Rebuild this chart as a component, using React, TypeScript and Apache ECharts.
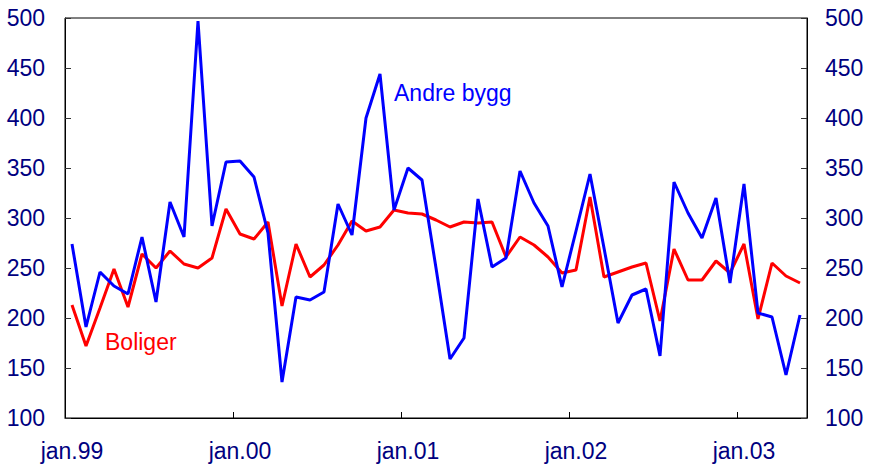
import React, { useEffect, useRef } from "react";
import * as echarts from "echarts";

const monthNames = ["jan", "feb", "mar", "apr", "mai", "jun", "jul", "aug", "sep", "okt", "nov", "des"];
const yearNames = ["99", "00", "01", "02", "03"];
const monthCount = 53;

const yTicks = { min: 100, max: 500, step: 50 };

const andreBygg = [
  274, 191, 246, 232, 224, 281, 216, 316, 281, 497, 292, 356,
  357, 341, 285, 136, 221, 218, 226, 314, 283, 400, 444, 308,
  350, 338, 250, 159, 180, 319, 251, 260, 347, 315, 292, 231,
  287, 344, 270, 195, 223, 229, 162, 336, 305, 280, 320, 235,
  334, 205, 201, 143, 203,
];

const boliger = [
  213, 172, 210, 249, 211, 264, 250, 267, 254, 250, 260, 309,
  284, 279, 296, 212, 274, 241, 253, 273, 297, 287, 291, 308,
  305, 304, 298, 291, 296, 295, 296, 261, 281, 273, 261, 245,
  248, 321, 241, 246, 251, 255, 197, 269, 238, 238, 257, 245,
  274, 199, 255, 242, 235,
];

const FONT = "'Liberation Sans', Arial, Helvetica, sans-serif";
const NAVY = "#000080";

export default function App() {
  const ref = useRef<HTMLDivElement>(null);

  useEffect(() => {
    if (!ref.current) return;
    const chart = echarts.init(ref.current, undefined, { renderer: "svg" });

    const categories: string[] = [];
    yearNames.forEach((y) => monthNames.forEach((m) => categories.push(`${m}.${y}`)));
    const cats = categories.slice(0, monthCount);

    const yAxisBase = (position: "left" | "right", margin: number) => ({
      type: "value" as const,
      position,
      min: yTicks.min,
      max: yTicks.max,
      interval: yTicks.step,
      axisLine: { show: true, lineStyle: { color: "#000", width: 1 } },
      axisTick: { show: true, inside: true, length: 6, lineStyle: { color: "#333" } },
      axisLabel: { color: NAVY, fontSize: 23, fontFamily: FONT, margin },
      splitLine: { show: false },
    });

    chart.setOption({
      animation: false,
      grid: {
        left: 65,
        right: 62,
        top: 18,
        bottom: 48,
        show: true,
        borderColor: "#000",
        borderWidth: 1,
        backgroundColor: "transparent",
      },
      xAxis: {
        type: "category",
        data: cats,
        boundaryGap: true,
        axisLine: { show: true, lineStyle: { color: "#000", width: 1 } },
        axisTick: {
          show: true,
          inside: true,
          length: 6,
          alignWithLabel: false,
          interval: (i: number) => i % 12 === 0,
          lineStyle: { color: "#000" },
        },
        axisLabel: {
          interval: (i: number) => i % 12 === 0,
          color: NAVY,
          fontSize: 23,
          fontFamily: FONT,
          margin: 21,
        },
        splitLine: { show: false },
      },
      yAxis: [yAxisBase("left", 20), yAxisBase("right", 18)],
      series: [
        {
          name: "Boliger",
          type: "line",
          data: boliger,
          yAxisIndex: 0,
          symbol: "none",
          lineStyle: { color: "#ff0000", width: 3 },
          itemStyle: { color: "#ff0000" },
        },
        {
          name: "Andre bygg",
          type: "line",
          data: andreBygg,
          yAxisIndex: 0,
          symbol: "none",
          lineStyle: { color: "#0000ff", width: 3 },
          itemStyle: { color: "#0000ff" },
        },
      ],
      graphic: [
        {
          type: "text",
          x: 394,
          y: 93,
          style: {
            text: "Andre bygg",
            fill: "#0000ff",
            font: `23px ${FONT}`,
            textVerticalAlign: "middle",
          },
        },
        {
          type: "text",
          x: 105,
          y: 342,
          style: {
            text: "Boliger",
            fill: "#ff0000",
            font: `23px ${FONT}`,
            textVerticalAlign: "middle",
          },
        },
      ],
    });

    return () => chart.dispose();
  }, []);

  return (
    <div
      ref={ref}
      style={{ position: "absolute", left: 0, top: 0, width: 869, height: 466, background: "#fff" }}
    />
  );
}
